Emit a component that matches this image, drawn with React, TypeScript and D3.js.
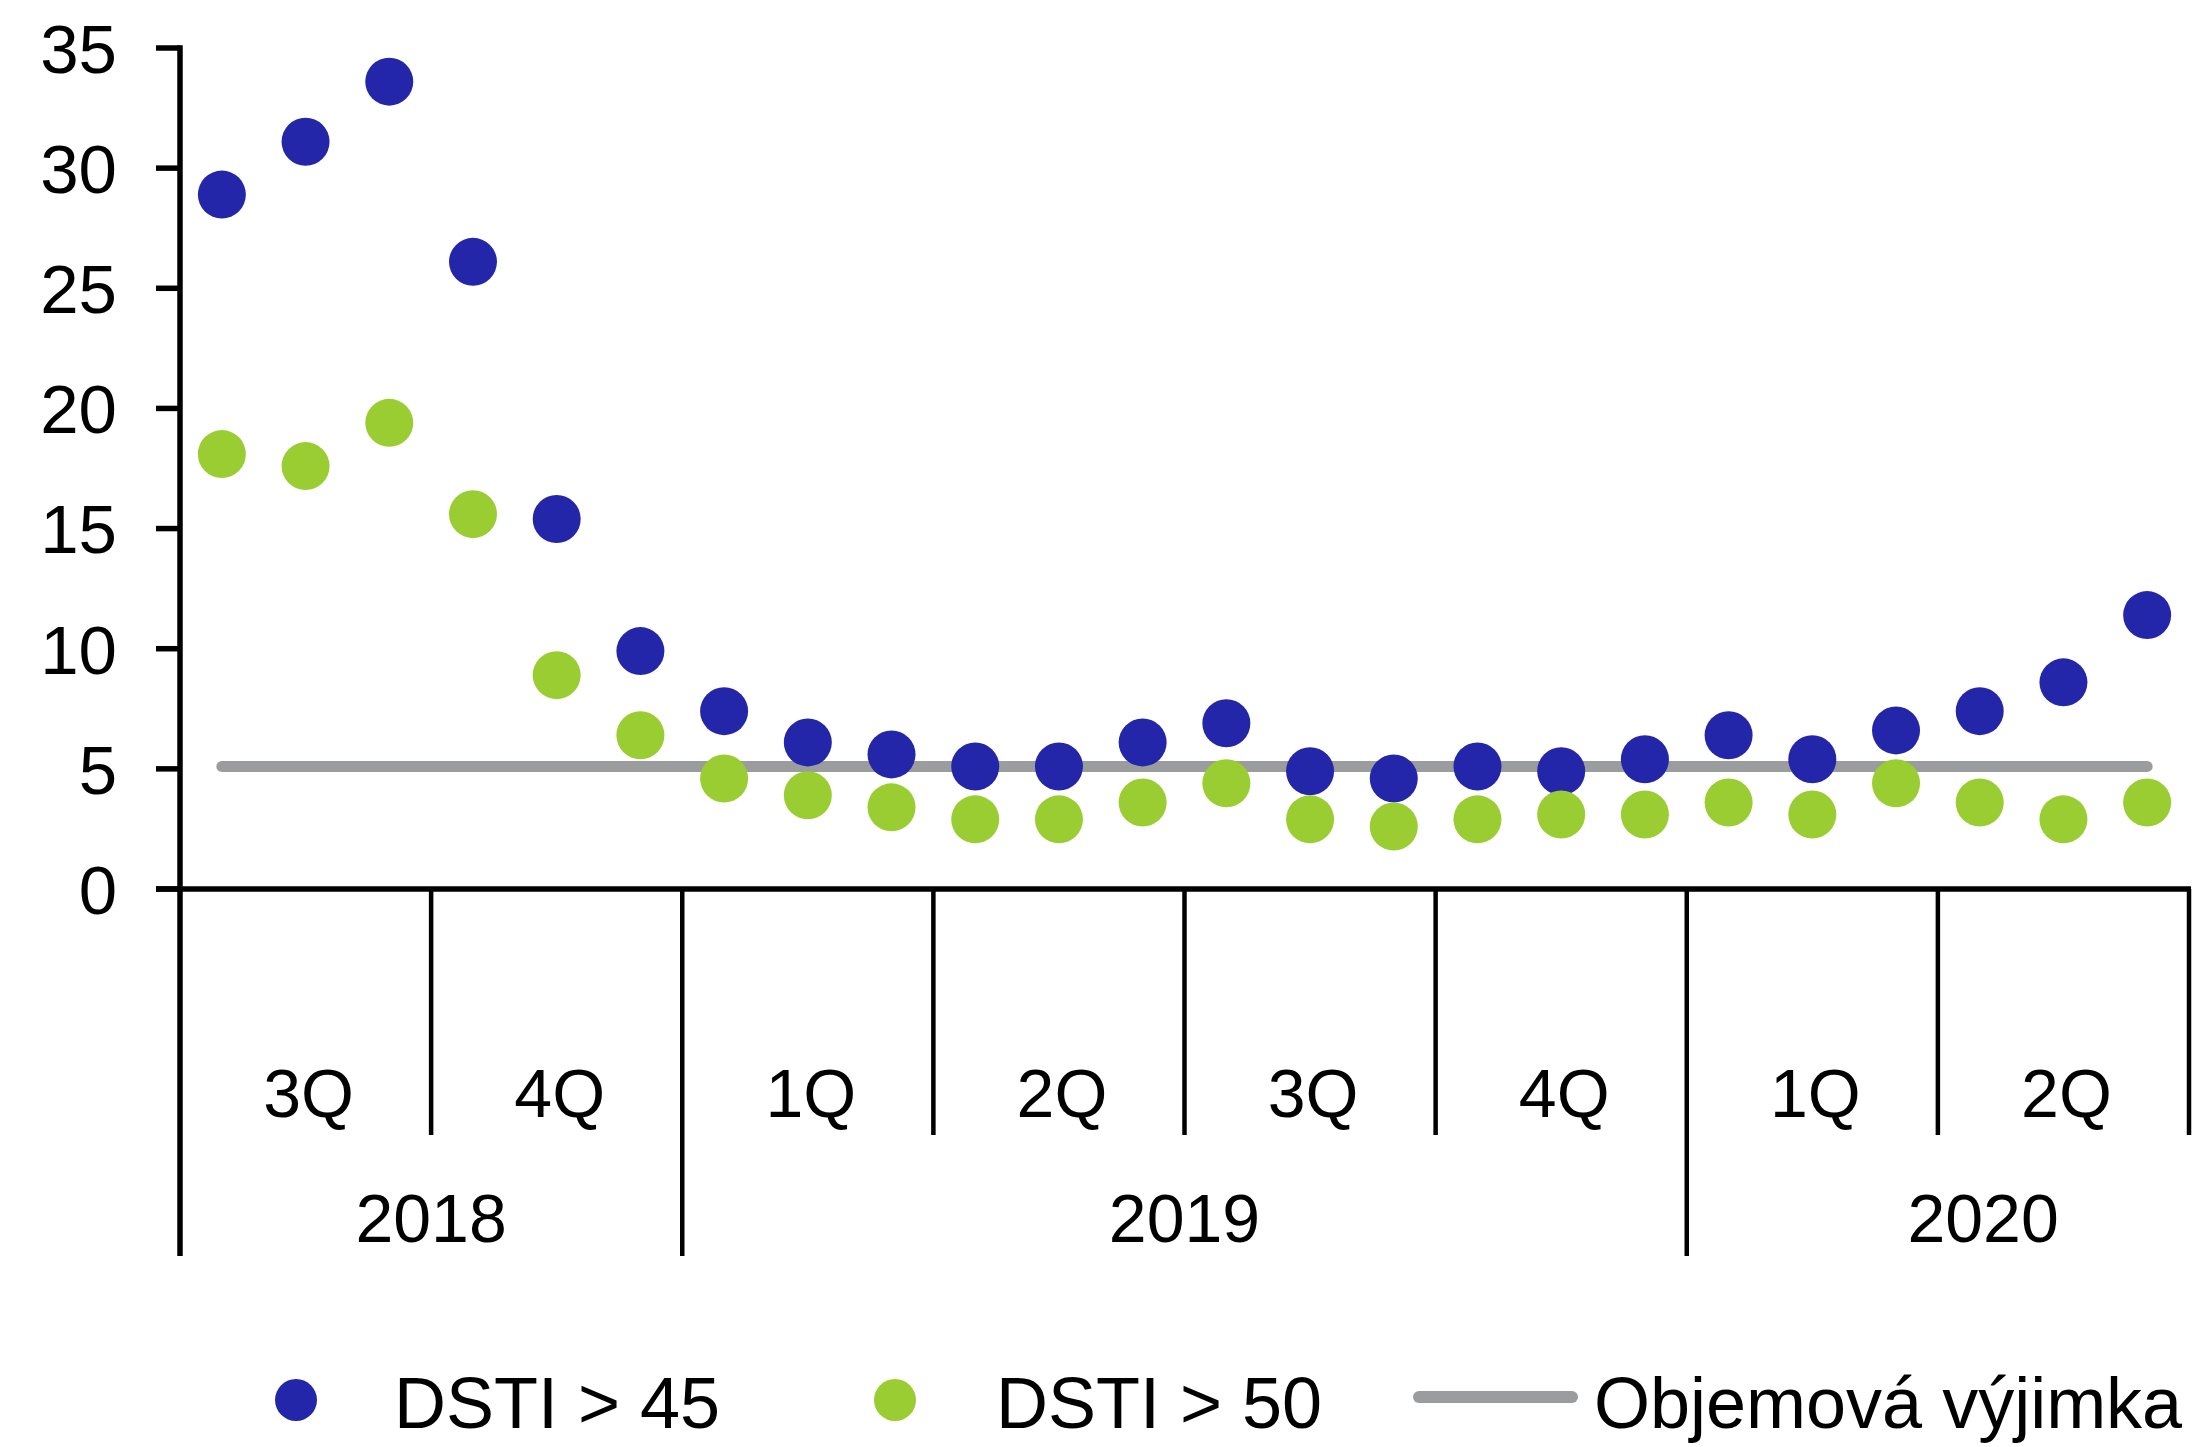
import React from "react";
import * as d3 from "d3";

// ---- data ----
const months = [
  "2018-07", "2018-08", "2018-09", "2018-10", "2018-11", "2018-12",
  "2019-01", "2019-02", "2019-03", "2019-04", "2019-05", "2019-06",
  "2019-07", "2019-08", "2019-09", "2019-10", "2019-11", "2019-12",
  "2020-01", "2020-02", "2020-03", "2020-04", "2020-05", "2020-06",
];
const quarterLabels = ["3Q", "4Q", "1Q", "2Q", "3Q", "4Q", "1Q", "2Q"];
const quarterYears = ["2018", "2018", "2019", "2019", "2019", "2019", "2020", "2020"];
const years = ["2018", "2019", "2020"];
const dsti45 = [28.9, 31.1, 33.6, 26.1, 15.4, 9.9, 7.4, 6.1, 5.6, 5.1, 5.1, 6.1, 6.9, 4.9, 4.6, 5.1, 4.9, 5.4, 6.4, 5.4, 6.6, 7.4, 8.6, 11.4];
const dsti50 = [18.1, 17.6, 19.4, 15.6, 8.9, 6.4, 4.6, 3.9, 3.4, 2.9, 2.9, 3.6, 4.4, 2.9, 2.6, 2.9, 3.1, 3.1, 3.6, 3.1, 4.4, 3.6, 2.9, 3.6];
const exemption = [5.1, 5.1, 5.1, 5.1, 5.1, 5.1, 5.1, 5.1, 5.1, 5.1, 5.1, 5.1, 5.1, 5.1, 5.1, 5.1, 5.1, 5.1, 5.1, 5.1, 5.1, 5.1, 5.1, 5.1];
const yTicks = [0, 5, 10, 15, 20, 25, 30, 35];
const seriesNames = ["DSTI > 45", "DSTI > 50", "Objemová výjimka"];

// ---- style ----
const W = 2193;
const H = 1447;
const BLUE = "#2426A9";
const GREEN = "#9ACD32";
const GRAY = "#9B9C9E";
const FONT = "'Liberation Sans', Arial, sans-serif";

export default function App() {
  const x0 = 180;
  const x1 = 2189;
  const yAxisBottom = 1256;
  const qLineBottom = 1135;

  const y = d3.scaleLinear().domain([0, 35]).range([889, 48]);
  const xm = d3.scaleBand<string>().domain(months).range([x0, x1]).padding(0);
  const qKeys = quarterLabels.map((q, i) => `${quarterYears[i]}-${q}`);
  const xq = d3.scaleBand<string>().domain(qKeys).range([x0, x1]).padding(0);
  const cx = (i: number) => (xm(months[i]) as number) + xm.bandwidth() / 2;

  const line = d3
    .line<number>()
    .x((_, i) => cx(i))
    .y((d) => y(d));

  const yearSpans = years.map((yr, yi) => {
    const idx = quarterYears.map((q, i) => (q === yr ? i : -1)).filter((i) => i >= 0);
    const s = xq(qKeys[idx[0]]) as number;
    const e = (xq(qKeys[idx[idx.length - 1]]) as number) + xq.bandwidth();
    const shift = yi === years.length - 1 ? xq.bandwidth() * 0.18 : 0;
    return { yr, s, e, c: (s + e) / 2 + shift };
  });

  const axisW = 5.5;
  const sepW = 4.5;

  return (
    <div style={{ position: "absolute", left: 0, top: 0, width: W, height: H, background: "#fff" }}>
      <svg width={W} height={H} viewBox={`0 0 ${W} ${H}`} style={{ display: "block" }} fontFamily={FONT}>
        <rect x={0} y={0} width={W} height={H} fill="#fff" />

        {/* y ticks & labels */}
        {yTicks.map((t) => (
          <g key={t}>
            <line x1={156} x2={x0} y1={y(t)} y2={y(t)} stroke="#000" strokeWidth={axisW} />
            <text x={117} y={y(t)} dy="0.36em" textAnchor="end" fontSize={69} fill="#000">
              {t}
            </text>
          </g>
        ))}

        {/* exemption line */}
        <path d={line(exemption) || ""} fill="none" stroke={GRAY} strokeWidth={11} strokeLinecap="round" />

        {/* points */}
        {dsti45.map((v, i) => (
          <circle key={`b${i}`} cx={cx(i)} cy={y(v)} r={24} fill={BLUE} />
        ))}
        {dsti50.map((v, i) => (
          <circle key={`g${i}`} cx={cx(i)} cy={y(v)} r={24} fill={GREEN} />
        ))}

        {/* axes */}
        <line x1={x0} x2={x0} y1={y(35) - axisW / 2} y2={yAxisBottom} stroke="#000" strokeWidth={axisW} />
        <line x1={156} x2={x1 + 2} y1={y(0)} y2={y(0)} stroke="#000" strokeWidth={axisW} />

        {/* quarter separators */}
        {qKeys.map((k, i) => {
          if (i === 0) return null;
          const xx = xq(k) as number;
          const isYear = quarterYears[i] !== quarterYears[i - 1];
          return (
            <line key={k} x1={xx} x2={xx} y1={y(0)} y2={isYear ? yAxisBottom : qLineBottom} stroke="#000" strokeWidth={sepW} />
          );
        })}
        <line x1={x1} x2={x1} y1={y(0)} y2={qLineBottom} stroke="#000" strokeWidth={sepW} />

        {/* quarter labels */}
        {qKeys.map((k, i) => (
          <text key={`ql${k}`} x={(xq(k) as number) + xq.bandwidth() / 2 + 3} y={1117} textAnchor="middle" fontSize={68} fill="#000">
            {quarterLabels[i]}
          </text>
        ))}

        {/* year labels */}
        {yearSpans.map((s) => (
          <text key={s.yr} x={s.c} y={1242} textAnchor="middle" fontSize={68} fill="#000">
            {s.yr}
          </text>
        ))}

        {/* legend */}
        <g fontSize={72} fill="#000">
          <circle cx={296} cy={1400} r={21} fill={BLUE} />
          <text x={394} y={1428}>{seriesNames[0]}</text>
          <circle cx={895} cy={1400} r={21} fill={GREEN} />
          <text x={996} y={1428}>{seriesNames[1]}</text>
          <line x1={1419} x2={1572} y1={1397} y2={1397} stroke={GRAY} strokeWidth={12} strokeLinecap="round" />
          <text x={1594} y={1428}>{seriesNames[2]}</text>
        </g>
      </svg>
    </div>
  );
}
